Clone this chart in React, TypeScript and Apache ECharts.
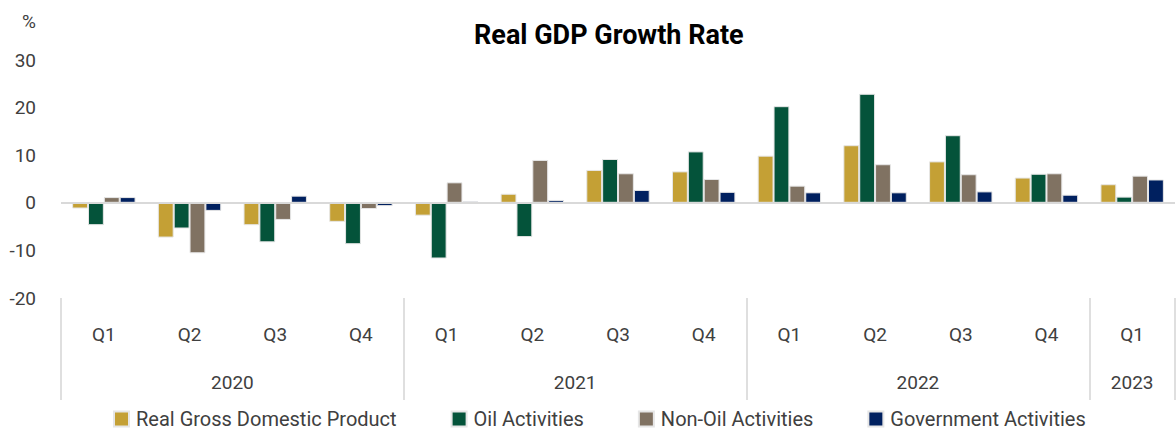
import React, { useEffect, useRef } from "react";
import * as echarts from "echarts";

const quarters = ["Q1", "Q2", "Q3", "Q4", "Q1", "Q2", "Q3", "Q4", "Q1", "Q2", "Q3", "Q4", "Q1"];
const years = ["2020", "2021", "2022", "2023"];
const yearCenters = [2, 6, 10, 12.5];
const yearBounds = [0, 4, 8, 12, 13];

const realGDP = [-1.2, -7.3, -4.7, -4.0, -2.7, 1.9, 6.9, 6.6, 9.9, 12.1, 8.7, 5.3, 3.9];
const oil = [-4.7, -5.4, -8.3, -8.7, -11.7, -7.2, 9.2, 10.8, 20.3, 22.9, 14.2, 6.1, 1.3];
const nonOil = [1.2, -10.6, -3.6, -1.3, 4.3, 9.0, 6.2, 5.0, 3.6, 8.1, 6.0, 6.2, 5.7];
const government = [1.2, -1.7, 1.5, -0.7, 0.3, 0.6, 2.7, 2.3, 2.2, 2.2, 2.4, 1.7, 4.9];

const seriesNames = [
  "Real Gross Domestic Product",
  "Oil Activities",
  "Non-Oil Activities",
  "Government Activities",
];
const seriesColors = ["#C4A035", "#04533A", "#807262", "#00205F"];
const seriesData = [realGDP, oil, nonOil, government];

const FONT = "Roboto";
const TXT = "#404040";

export default function App() {
  const ref = useRef<HTMLDivElement>(null);
  useEffect(() => {
    if (!ref.current) return;
    const chart = echarts.init(ref.current, undefined, { renderer: "svg" });
    chart.setOption({
      animation: false,
      title: {
        text: "Real GDP Growth Rate",
        left: 469,
        top: 16,
        textStyle: { fontFamily: FONT, fontSize: 27, fontWeight: "bold", color: "#000" },
      },
      legend: {
        top: 409,
        left: 113,
        itemWidth: 15,
        itemHeight: 15,
        itemGap: 54,
        icon: "rect",
        padding: 0,
        textStyle: { fontFamily: FONT, fontSize: 20, color: TXT, padding: [0, 0, 0, 2] },
        data: seriesNames,
      },
      grid: { left: 61, right: 1, top: 60, bottom: 134, containLabel: false },
      xAxis: [
        {
          type: "category",
          data: quarters,
          position: "bottom",
          axisLine: { show: false },
          axisTick: { show: false },
          axisLabel: { margin: 27, fontFamily: FONT, fontSize: 19, color: TXT },
        },
        {
          type: "value",
          min: 0,
          max: 13,
          position: "bottom",
          axisLine: { show: false },
          splitLine: { show: false },
          axisTick: {
            show: true,
            customValues: yearBounds,
            length: 102,
            lineStyle: { color: "#d4d4d4", width: 1.5 },
          },
          axisLabel: {
            customValues: yearCenters,
            margin: 75,
            fontFamily: FONT,
            fontSize: 19,
            color: TXT,
            formatter: (v: number) => {
              const i = yearCenters.indexOf(v);
              return i >= 0 ? years[i] : "";
            },
          },
        },
      ],
      yAxis: {
        type: "value",
        min: -20,
        max: 30,
        interval: 10,
        name: "%",
        nameLocation: "end",
        nameGap: 29,
        nameTextStyle: {
          fontFamily: FONT,
          fontSize: 19,
          color: TXT,
          align: "right",
          padding: [0, 25, 0, 0],
        },
        axisLine: { show: false },
        axisTick: { show: false },
        splitLine: { show: false },
        axisLabel: { margin: 25, fontFamily: FONT, fontSize: 19, color: TXT },
      },
      series: seriesData.map((d, i) => ({
        name: seriesNames[i],
        type: "bar",
        xAxisIndex: 0,
        data: d,
        barGap: "0%",
        barCategoryGap: "26%",
        itemStyle: { color: seriesColors[i], borderColor: "#e6e6e6", borderWidth: 1 },
        ...(i === 0
          ? {
              markLine: {
                silent: true,
                symbol: "none",
                label: { show: false },
                lineStyle: { color: "#d9d9d9", width: 2, type: "solid" },
                data: [{ yAxis: 0 }],
              },
            }
          : {}),
      })),
    });
    return () => chart.dispose();
  }, []);
  return (
    <div
      ref={ref}
      style={{ position: "fixed", left: 0, top: 0, width: 1176, height: 432, background: "#fff" }}
    />
  );
}
